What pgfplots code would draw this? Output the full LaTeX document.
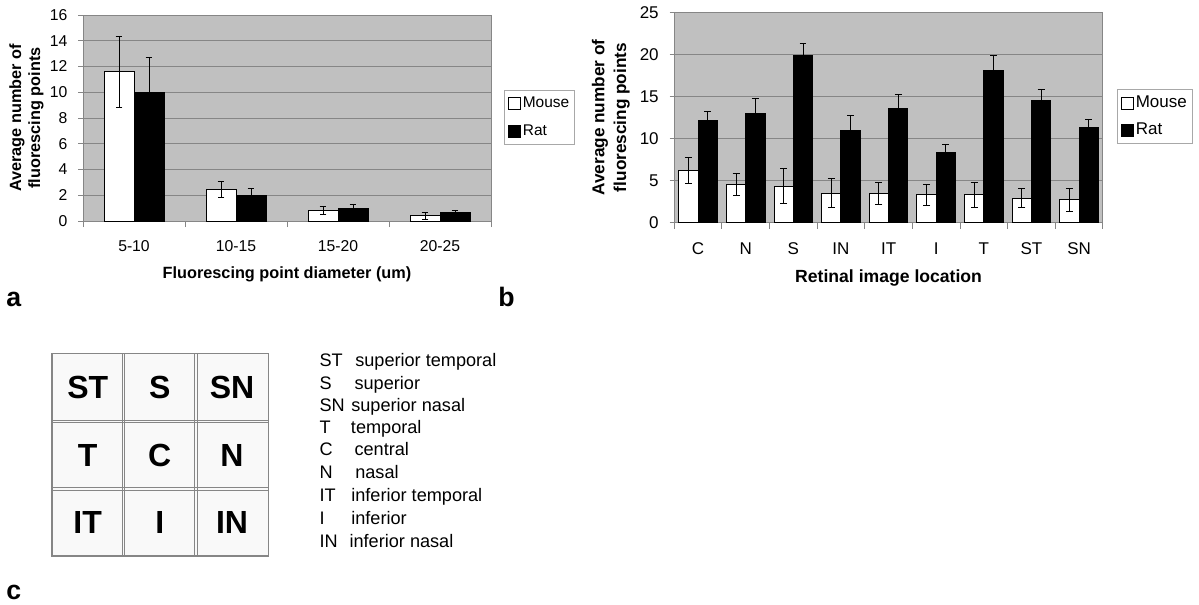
\documentclass[border=0pt]{standalone}
\usepackage{fontspec}
\setmainfont{Liberation Sans}
\usepackage{pgfplots}
\usepackage{pgfplotstable}
\pgfplotsset{compat=1.18}
\definecolor{plotbg}{HTML}{C0C0C0}
\definecolor{gridc}{HTML}{868686}
\definecolor{cellbg}{HTML}{F9F9F9}
\definecolor{legc}{HTML}{A8A8A8}

\pgfplotstableread{
x mouse mouseerr rat raterr
0 11.6 2.75 10.0 2.7
1 2.45 0.63 2.0 0.5
2 0.8 0.3 1.0 0.27
3 0.4 0.25 0.65 0.17
}\dataA

\pgfplotstableread{
x mouse mouseerr rat raterr
0 6.2 1.5 12.1 1.15
1 4.5 1.3 13.0 1.7
2 4.35 2.1 19.85 1.4
3 3.5 1.7 10.9 1.8
4 3.45 1.3 13.6 1.6
5 3.3 1.25 8.3 1.0
6 3.3 1.5 18.1 1.75
7 2.9 1.15 14.5 1.35
8 2.7 1.35 11.3 1.0
}\dataB

\pgfplotsset{
  excelbar/.style={
    scale only axis,
    /pgf/number format/assume math mode=true,
    axis background/.style={fill=plotbg},
    axis line style={gridc, line width=0.7pt},
    ymajorgrids,
    grid style={gridc, line width=0.7pt},
    ymin=0,
    tick align=outside,
    tick pos=left,
    major tick length=3.5pt,
    minor tick length=4.5pt,
    tick style={gridc, line width=0.7pt},
    major x tick style={draw=none},
    xtick=data,
    ybar=0pt,
    y tick label style={anchor=east, inner sep=0pt, xshift=-8pt},
    x tick label style={anchor=center},
    ylabel style={at={(axis description cs:0,0.5)}, anchor=center, align=center},
    xlabel style={at={(axis description cs:0.5,0)}, anchor=center},
    legend cell align=left,
    legend style={draw=legc, fill=white, line width=0.6pt, anchor=north west,
      inner xsep=2.5pt, inner ysep=3pt, row sep=6.5pt,
      nodes={inner sep=1.5pt, text height=8.5pt, text depth=2.5pt}},
  },
  errstyle/.style={
    error bars/y dir=both, error bars/y explicit,
    error bars/error bar style={black, line width=0.75pt},
    error bars/error mark options={rotate=90, black, line width=0.75pt, mark size=2.6pt},
  },
  mousebar/.style={errstyle, draw=black, fill=white, line width=0.75pt,
    legend image code/.code={\draw[black, line width=0.6pt, fill=white] (0pt,-4.5pt) rectangle (9pt,4.5pt);}},
  ratbar/.style={errstyle, draw=black, fill=black, line width=0.75pt,
    legend image code/.code={\draw[black, line width=0.6pt, fill=black] (0pt,-4.5pt) rectangle (9pt,4.5pt);}},
}

\begin{document}
\begin{tikzpicture}[x=0.75pt, y=-0.75pt]
\useasboundingbox (0,0) rectangle (1199,604);

% ---------------- panel a ----------------
\begin{axis}[excelbar,
  at={(62.25pt,-165.75pt)}, anchor=south west,
  width=306pt, height=154.5pt,
  xmin=-0.5, xmax=3.5, ymax=16,
  ytick={0,2,...,16},
  minor xtick={-0.5,0.5,1.5,2.5,3.5},
  xticklabels={5-10,10-15,15-20,20-25},
  bar width=22.5pt,
  tick label style={font=\fontsize{11.8}{14}\selectfont},
  x tick label style={yshift=-15.3pt},
  ylabel={Average number of\\fluorescing points},
  ylabel style={font=\fontsize{12.2}{14.25}\bfseries, yshift=42.4pt},
  xlabel={Fluorescing point diameter (um)},
  xlabel style={font=\fontsize{12.2}{14}\bfseries, yshift=-40.3pt},
  legend style={at={(axis description cs:1.0326,0.636)}, font=\fontsize{11.6}{14}\selectfont},
]
\addplot[mousebar] table[x=x, y=mouse, y error=mouseerr] {\dataA};
\addplot[ratbar] table[x=x, y=rat, y error=raterr] {\dataA};
\legend{Mouse, Rat}
\end{axis}

% ---------------- panel b ----------------
\begin{axis}[excelbar,
  at={(505.7pt,-167pt)}, anchor=south west,
  width=321.5pt, height=157.8pt,
  xmin=-0.5, xmax=8.5, ymax=25,
  ytick={0,5,...,25},
  minor xtick={-0.5,0.5,...,8.5},
  xticklabels={C,N,S,IN,IT,I,T,ST,SN},
  bar width=14.5pt,
  tick label style={font=\fontsize{12.75}{15}\selectfont},
  x tick label style={yshift=-16pt},
  ylabel={Average number of\\fluorescing points},
  ylabel style={font=\fontsize{12.9}{16.3}\bfseries, yshift=47.5pt},
  xlabel={Retinal image location},
  xlabel style={font=\fontsize{13.2}{15}\bfseries, yshift=-41.5pt},
  legend style={at={(axis description cs:1.0334,0.634)}, font=\fontsize{12.75}{15}\selectfont},
]
\addplot[mousebar] table[x=x, y=mouse, y error=mouseerr] {\dataB};
\addplot[ratbar] table[x=x, y=rat, y error=raterr] {\dataB};
\legend{Mouse, Rat}
\end{axis}

% ---------------- panel labels ----------------
\node[anchor=base west, inner sep=0pt, font=\fontsize{20}{22}\bfseries] at (6,306) {a};
\node[anchor=base west, inner sep=0pt, font=\fontsize{20}{22}\bfseries] at (498,306) {b};
\node[anchor=base west, inner sep=0pt, font=\fontsize{20}{22}\bfseries] at (6,599) {c};

% ---------------- panel c grid ----------------
\fill[cellbg] (52,353.3) rectangle (268.3,556);
\foreach \xx in {123.3,196} {
  \draw[gridc, line width=0.7pt] (\xx-1.2,353.3) -- (\xx-1.2,556);
  \draw[gridc, line width=0.7pt] (\xx+1.2,353.3) -- (\xx+1.2,556);
}
\foreach \yy in {421.7,489} {
  \draw[gridc, line width=0.7pt] (52,\yy-1.2) -- (268.3,\yy-1.2);
  \draw[gridc, line width=0.7pt] (52,\yy+1.2) -- (268.3,\yy+1.2);
}
\draw[gridc, line width=0.9pt] (52,353.3) rectangle (268.3,556);
\begin{scope}[every node/.style={font=\fontsize{24}{28}\bfseries, inner sep=0pt}]
\node at (87.7,387.5) {ST};
\node at (159.7,387.5) {S};
\node at (232,387.5) {SN};
\node at (87.7,455.3) {T};
\node at (159.7,455.3) {C};
\node at (232,455.3) {N};
\node at (87.7,522.5) {IT};
\node at (159.7,522.5) {I};
\node at (232,522.5) {IN};
\end{scope}

% ---------------- abbreviation list ----------------
\begin{scope}[every node/.style={font=\fontsize{13.6}{15}\selectfont, inner sep=0pt, anchor=base west}]
\node at (319.3,366) {ST};  \node at (355,366) {superior temporal};
\node at (319.3,389.3) {S}; \node at (354.3,389.3) {superior};
\node at (319.3,411) {SN};  \node at (351,411) {superior nasal};
\node at (319.3,433.3) {T}; \node at (350.7,433.3) {temporal};
\node at (319.3,455.3) {C}; \node at (354.3,455.3) {central};
\node at (319.3,478.7) {N}; \node at (355,478.7) {nasal};
\node at (319.3,501.7) {IT}; \node at (351,501.7) {inferior temporal};
\node at (319.3,524.3) {I}; \node at (351,524.3) {inferior};
\node at (319.3,547.7) {IN}; \node at (349.3,547.7) {inferior nasal};
\end{scope}
\end{tikzpicture}
\end{document}
